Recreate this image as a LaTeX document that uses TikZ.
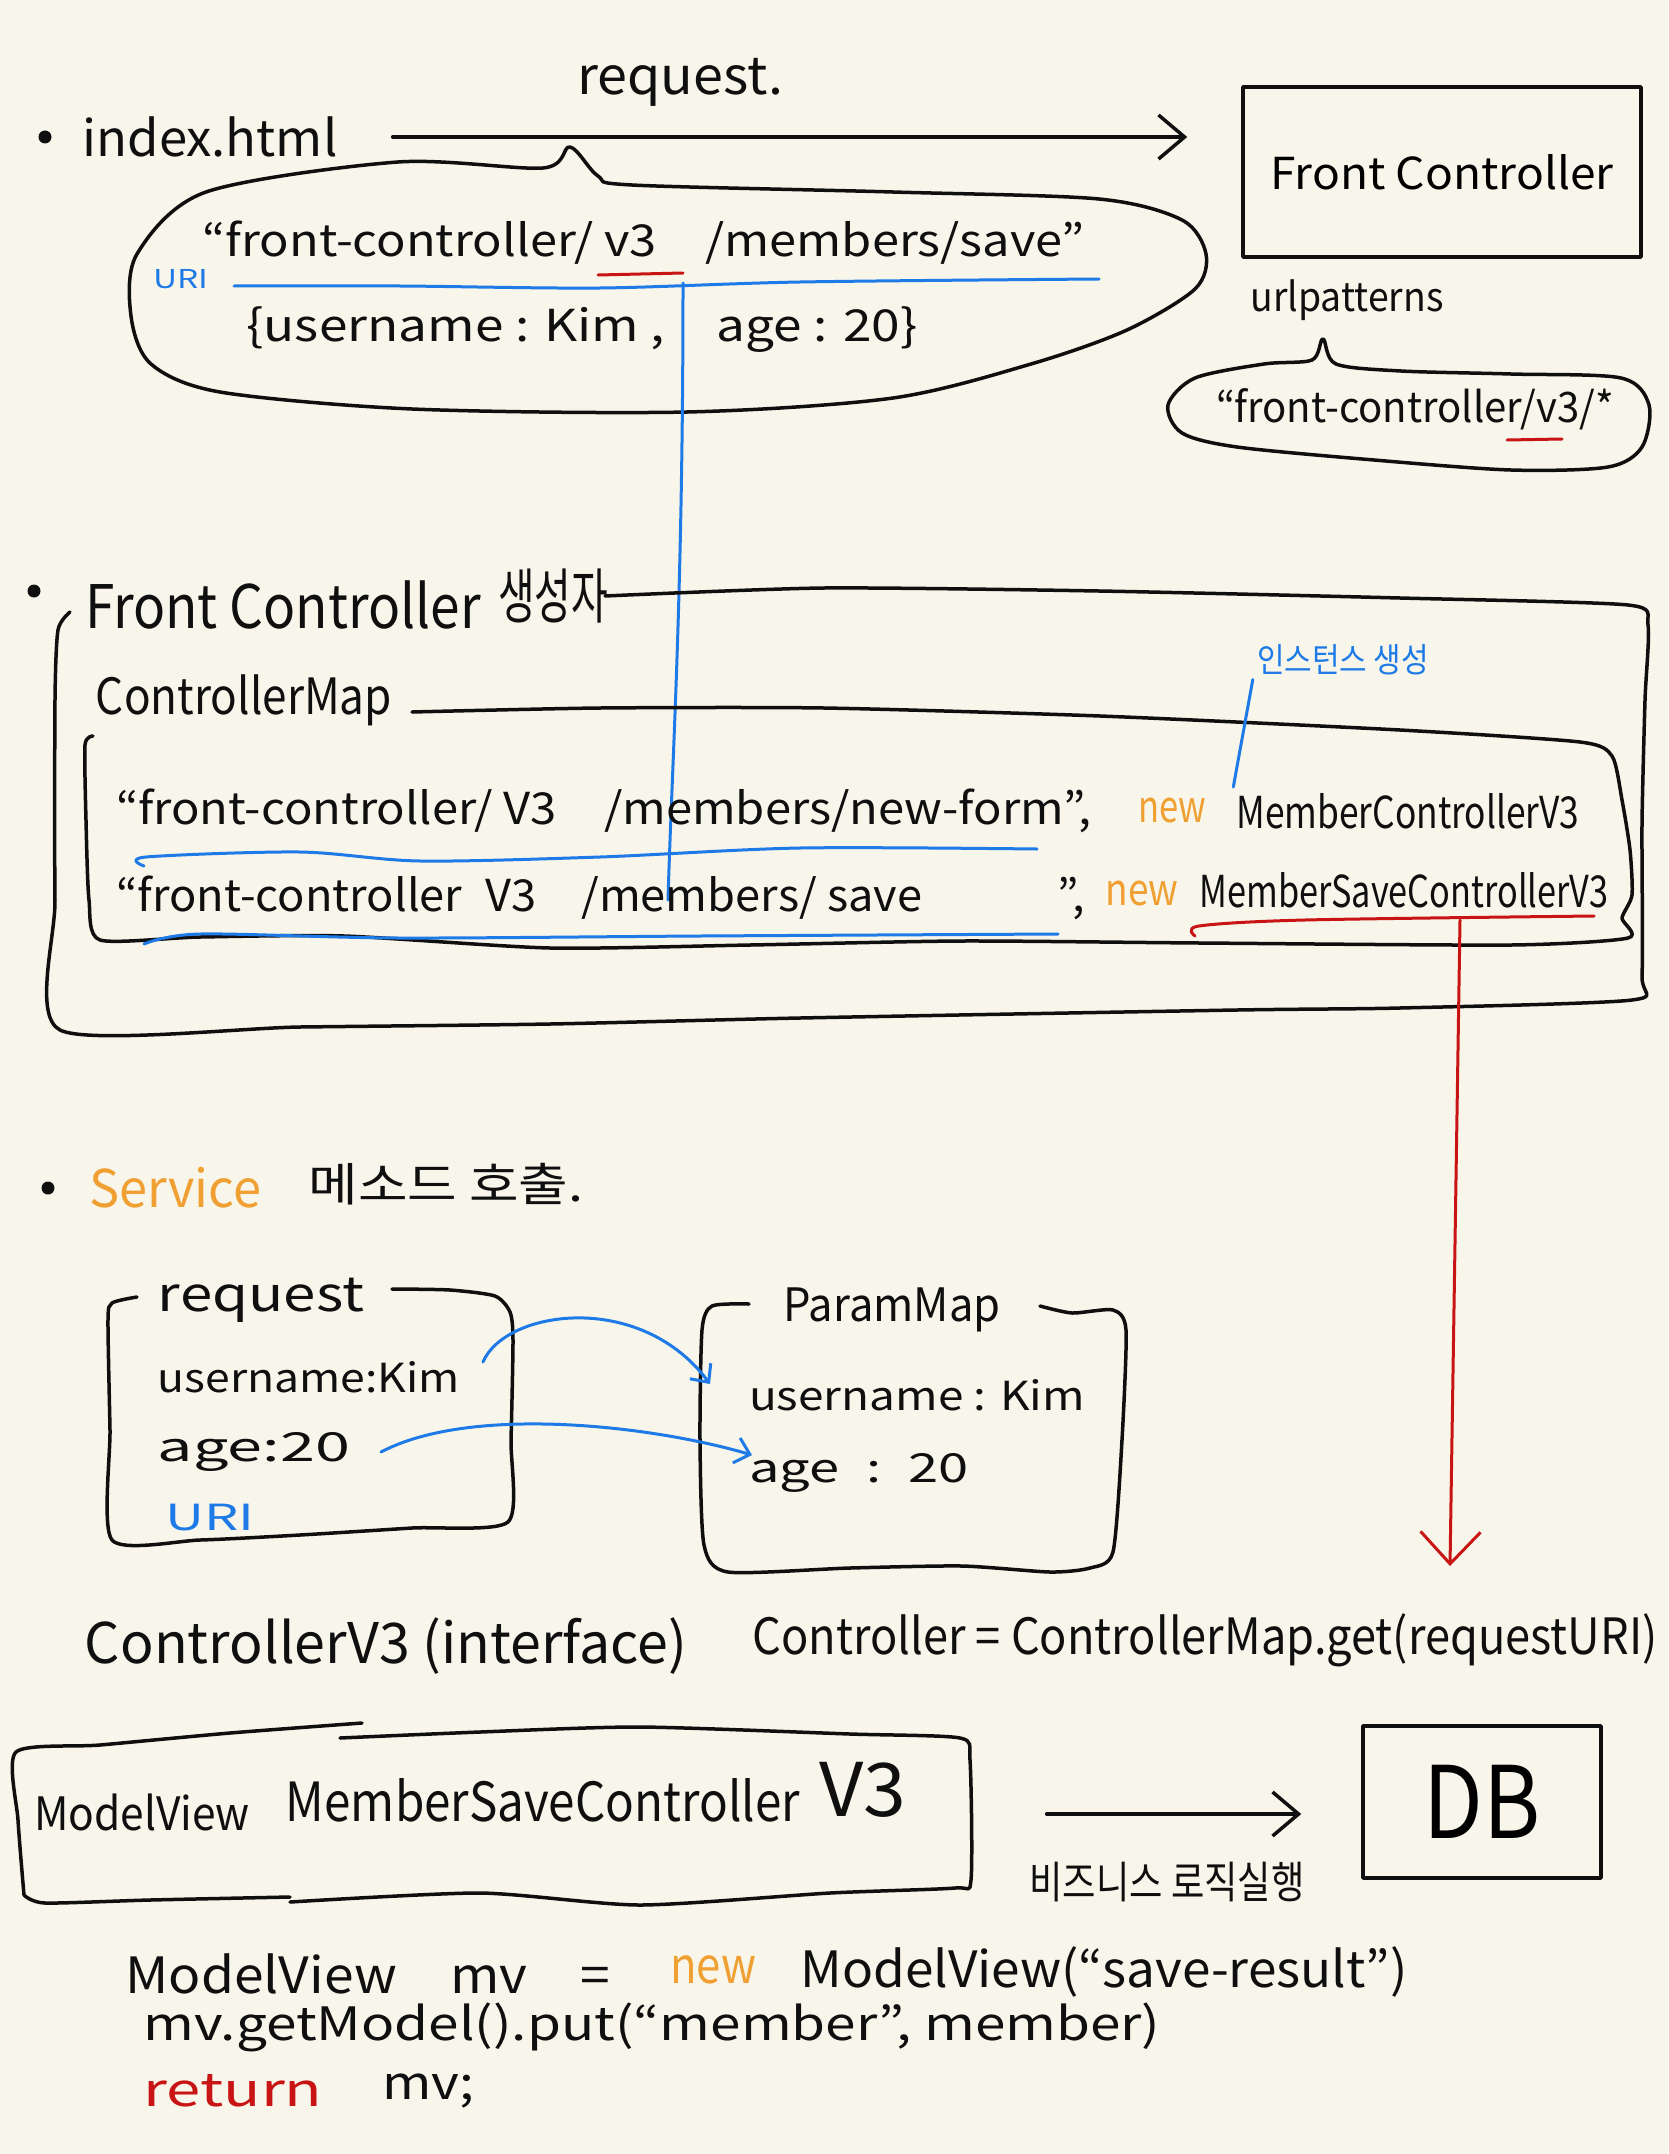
\documentclass[tikz,border=0pt]{standalone}
\usepackage{fontspec}
\setmainfont{Noto Sans CJK KR}
\usepackage{graphicx}
\usetikzlibrary{arrows.meta,calc}
\definecolor{bgc}{RGB}{248,246,235}
\definecolor{hblue}{RGB}{30,122,230}
\definecolor{hred}{RGB}{200,20,20}
\definecolor{horange}{RGB}{240,160,50}
\definecolor{hink}{RGB}{15,15,15}
\newcommand{\hwt}[3]{\fontsize{#1}{#1}\selectfont\resizebox{#2pt}{\height}{#3}}
\begin{document}
\begin{tikzpicture}[x=1pt,y=-1pt,
  hand/.style={draw=hink, line width=3.5pt, line cap=round, line join=round},
  bluel/.style={draw=hblue, line width=3pt, line cap=round, line join=round},
  redl/.style={draw=hred, line width=3pt, line cap=round, line join=round},
  txt/.style={inner sep=0pt, text=hink},
  chev/.style={-{Straight Barb[length=26pt,width=44pt]}},
  bchev/.style={-{Straight Barb[length=14pt,width=26pt]}},
  rchev/.style={-{Straight Barb[length=32pt,width=60pt]}},
]
\fill[bgc] (0,0) rectangle (1668,2154);
\useasboundingbox (0,0) rectangle (1668,2154);

% ---------------- section 1 ----------------
\fill[hink] (45,137) circle (6.5pt);
\node[txt] (idx) at (210,137) {\hwt{50}{255}{index.html}};
\node[txt] (req) at (680,82) {\hwt{52}{206}{request.}};
\node[hand, inner sep=0pt, minimum width=398pt, minimum height=170pt] (fc) at (1442,172) {\hwt{44}{343}{Front Controller}};
\draw[hand, chev, shorten <=55pt, shorten >=54pt] (idx.east) -- (idx.east -| fc.west);

\draw[hand] plot[smooth cycle, tension=0.5] coordinates {(131,316) (137,254) (206,192) (398,162) (543,168) (570,147) (598,176) (632,185) (893,192) (1099,199) (1182,220) (1206,254) (1195,289) (1127,330) (1031,364) (893,398) (687,412) (412,409) (220,392) (151,364)};
\node[txt] (uri1) at (644,243) {\hwt{44}{882}{“front-controller/ v3\quad/members/save”}};
\draw[redl] (598,275) -- (683,273);
\node[txt, text=hblue] (urilbl) at (181,279) {\hwt{26}{55}{URI}};
\draw[bluel] plot[smooth, tension=0.5] coordinates {(234,286) (400,286) (600,288) (800,282) (1099,279)};
\node[txt] (body1) at (582,330) {\hwt{44}{671}{\{username : Kim ,\quad age : 20\}}};

\coordinate (vtop) at (683,283);
\coordinate (vbot) at (668,900);
\draw[bluel] (vtop) .. controls (683,600) and (672,760) .. (vbot);

\node[txt] (urlp) at (1347,300) {\hwt{40}{193}{urlpatterns}};
\draw[hand] plot[smooth cycle, tension=0.5] coordinates {(1168,405) (1195,378) (1264,364) (1312,360) (1323,339) (1336,364) (1401,371) (1511,374) (1621,378) (1649,405) (1642,447) (1608,467) (1511,470) (1374,460) (1237,447) (1182,433)};
\node[txt] (pat) at (1415,409) {\hwt{42}{398}{“front-controller/v3/*}};
\draw[redl] (1507,440) -- (1562,439);

% ---------------- section 2 ----------------
\fill[hink] (34,591) circle (6.5pt);
\node[txt] (fch) at (283,605) {\hwt{60}{396}{Front Controller}};
\node[txt] (ctor) at (553,596) {\hwt{60}{110}{생성자}};
\draw[hand] plot[smooth, tension=0.4] coordinates {(605,596) (824,588) (1099,591) (1400,598) (1628,605) (1648,625) (1645,700) (1642,824) (1642,975) (1632,1000) (1400,1008) (1237,1010) (800,1018) (550,1024) (300,1027) (60,1030) (55,900) (55,700) (58,630) (70,612)};
\node[txt] (cmap) at (244,700) {\hwt{50}{296}{ControllerMap}};
\draw[hand] plot[smooth, tension=0.4] coordinates {(412,712) (600,708) (824,708) (1100,716) (1400,730) (1580,742) (1612,756) (1622,800) (1630,850) (1632,895) (1622,918) (1628,938) (1511,945) (1200,943) (962,941) (750,945) (550,948) (344,936) (200,937) (100,940) (89,900) (86,820) (85,745) (93,736)};

\node[txt] (r1) at (604,811) {\hwt{44}{975}{“front-controller/ V3\quad/members/new-form”,}};
\node[txt, text=horange] (new1) at (1172,811) {\hwt{44}{68}{new}};
\node[txt] (mc1) at (1408,811) {\hwt{44}{343}{MemberControllerV3}};
\draw[bluel] plot[smooth, tension=0.5] coordinates {(144,866) (146,857) (300,852) (420,861) (600,857) (800,848) (1037,849)};

\node[txt] (r2) at (601,898) {\hwt{44}{968}{“front-controller\enspace V3\quad/members/ save\qquad\quad”,}};
\node[txt, text=horange] (new2) at (1142,894) {\hwt{44}{73}{new}};
\node[txt] (msc) at (1404,890) {\hwt{44}{409}{MemberSaveControllerV3}};
\draw[bluel] plot[smooth, tension=0.5] coordinates {(144,944) (200,934) (400,938) (700,936) (1058,934)};

\node[txt, text=hblue] (inst) at (1343,660) {\hwt{34}{172}{인스턴스 생성}};
\draw[bluel] ($(inst.south west)+(-4,4)$) -- ($(mc1.north west)+(-3,-6)$);

\draw[redl] plot[smooth, tension=0.5] coordinates {(1195,936) (1199,926) (1305,920) (1594,916)};
\coordinate (rtop) at (1460,920);
\coordinate (rbot) at (1450,1566);
\draw[redl, rchev] (rtop) -- (rbot);

% ---------------- section 3 ----------------
\fill[hink] (48,1188) circle (6.5pt);
\node[txt, text=horange] (svc) at (175,1188) {\hwt{52}{172}{Service}};
\node[txt] (call) at (446,1184) {\hwt{46}{275}{메소드 호출.}};

\draw[hand] plot[smooth, tension=0.4] coordinates {(137,1297) (112,1303) (108,1320) (110,1430) (112,1540) (200,1540) (300,1535) (412,1528) (508,1522) (511,1440) (513,1340) (510,1312) (495,1296) (450,1290) (392,1289)};
\node[txt] (rq) at (261,1300) {\hwt{48}{206}{request}};
\node[txt] (u1) at (309,1377) {\hwt{40}{302}{username:Kim}};
\node[txt] (a1) at (254,1452) {\hwt{40}{192}{age:20}};
\node[txt, text=hblue] (uri2) at (210,1518) {\hwt{36}{89}{URI}};

\draw[hand] plot[smooth, tension=0.4] coordinates {(749,1304) (712,1306) (702,1330) (700,1440) (704,1545) (728,1572) (850,1568) (962,1566) (1050,1572) (1090,1568) (1113,1552) (1122,1440) (1126,1330) (1113,1310) (1072,1313) (1040,1306)};
\node[txt] (pm) at (892,1310) {\hwt{46}{217}{ParamMap}};
\node[txt] (pu) at (917,1395) {\hwt{40}{336}{username : Kim}};
\node[txt] (pa) at (859,1473) {\hwt{40}{220}{age\enspace :\enspace 20}};

\coordinate (a1s) at (483,1362);
\coordinate (a1e) at (710,1384);
\draw[bluel, bchev] (a1s) .. controls (505,1310) and (640,1290) .. (a1e);
\coordinate (a2s) at (381,1452);
\coordinate (a2e) at (752,1455);
\draw[bluel, bchev] (a2s) .. controls (470,1405) and (650,1425) .. (a2e);

\node[txt] (c3) at (386,1646) {\hwt{56}{602}{ControllerV3 (interface)}};
\node[txt] (cget) at (1205,1640) {\hwt{50}{905}{Controller = ControllerMap.get(requestURI)}};

% ---------------- section 4 ----------------
\node[minimum width=955pt, minimum height=170pt, inner sep=0pt] (mvb) at (493,1814) {};
\draw[hand] plot[smooth, tension=0.4] coordinates {(24,1895) (18,1820) (16,1752) (100,1745) (230,1733) (362,1723)};
\draw[hand] plot[smooth, tension=0.4] coordinates {(340,1738) (480,1732) (640,1727) (850,1734) (960,1738) (970,1760) (971,1880) (955,1888) (830,1893) (640,1905) (480,1893) (290,1902)};
\draw[hand] plot[smooth, tension=0.4] coordinates {(290,1897) (150,1900) (45,1903) (24,1895)};
\node[txt] (mv1) at (142,1812) {\hwt{46}{216}{ModelView}};
\node[txt] (mv2) at (543,1800) {\hwt{54}{514}{MemberSaveController}};
\node[txt] (mv3) at (863,1790) {\hwt{74}{87}{V3}};

\node[hand, inner sep=0pt, minimum width=238pt, minimum height=152pt] (db) at (1482,1802) {\hwt{100}{117}{DB}};
\draw[hand, chev, shorten <=76pt, shorten >=60pt] (mvb.east) -- (mvb.east -| db.west);
\node[txt] (biz) at (1167,1882) {\hwt{44}{275}{비즈니스 로직실행}};

\node[txt] (cl1a) at (368,1974) {\hwt{50}{485}{ModelView\quad mv\quad =}};
\node[txt, text=horange] (cl1b) at (713,1970) {\hwt{50}{86}{new}};
\node[txt] (cl1c) at (1104,1972) {\hwt{50}{607}{ModelView(“save-result”)}};
\node[txt] (cl2) at (652,2027) {\hwt{46}{1017}{mv.getModel().put(“member”, member)}};
\node[txt, text=hred] (cl3a) at (233,2091) {\hwt{46}{179}{return}};
\node[txt] (cl3b) at (428,2091) {\hwt{46}{92}{mv;}};
\end{tikzpicture}
\end{document}
